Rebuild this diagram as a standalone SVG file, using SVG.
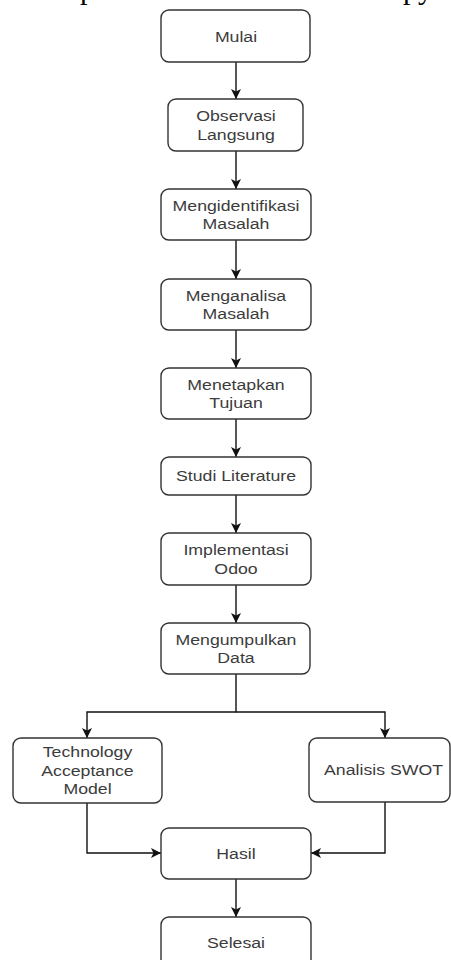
<svg xmlns="http://www.w3.org/2000/svg" width="451" height="960" viewBox="0 0 451 960">
<style>
.box{fill:#fff;stroke:#333;stroke-width:1.4}
.t{font-family:"Liberation Sans",Arial,sans-serif;font-size:15px;fill:#3c3c3c;text-anchor:middle}
.c{fill:none;stroke:#111;stroke-width:1.4}
.cap{font-family:"Liberation Serif","Times New Roman",serif;font-size:30px;fill:#000}
</style>
<defs>
<marker id="ah" viewBox="0 0 10 10" refX="10" refY="5" markerWidth="10" markerHeight="10" markerUnits="userSpaceOnUse" orient="auto">
<path d="M0,0 L10,5 L0,10 L2.5,5 Z" fill="#111"/>
</marker>
</defs>
<rect width="451" height="960" fill="#fff"/>
<g id="caption">
<text class="cap" x="80" y="-1">p</text>
<text class="cap" x="403" y="-1">py</text>
</g>
<g id="connectors">
<path class="c" d="M236,62 V99" marker-end="url(#ah)"/>
<path class="c" d="M236,151 V189" marker-end="url(#ah)"/>
<path class="c" d="M236,240 V279" marker-end="url(#ah)"/>
<path class="c" d="M236,330 V368" marker-end="url(#ah)"/>
<path class="c" d="M236,419 V457" marker-end="url(#ah)"/>
<path class="c" d="M236,495 V533" marker-end="url(#ah)"/>
<path class="c" d="M236,585 V623" marker-end="url(#ah)"/>
<path class="c" d="M236,674 V712 H87 V738" marker-end="url(#ah)"/>
<path class="c" d="M236,712 H385 V738" marker-end="url(#ah)"/>
<path class="c" d="M87,803 V853 H161" marker-end="url(#ah)"/>
<path class="c" d="M385,802 V853 H311" marker-end="url(#ah)"/>
<path class="c" d="M236,879 V917" marker-end="url(#ah)"/>
</g>
<g id="mulai">
<rect class="box" x="161" y="10" width="149" height="52" rx="8"/>
<text class="t" transform="translate(236,41.5) scale(1.18,1)">Mulai</text>
</g>
<g id="observasi">
<rect class="box" x="168" y="99" width="135" height="52" rx="8"/>
<text class="t" transform="translate(236,121.4) scale(1.18,1)">Observasi</text>
<text class="t" transform="translate(236,139.6) scale(1.18,1)">Langsung</text>
</g>
<g id="mengidentifikasi">
<rect class="box" x="161" y="189" width="150" height="51" rx="8"/>
<text class="t" transform="translate(236,210.9) scale(1.18,1)">Mengidentifikasi</text>
<text class="t" transform="translate(236,229.1) scale(1.18,1)">Masalah</text>
</g>
<g id="menganalisa">
<rect class="box" x="161" y="279" width="150" height="51" rx="8"/>
<text class="t" transform="translate(236,300.9) scale(1.18,1)">Menganalisa</text>
<text class="t" transform="translate(236,319.1) scale(1.18,1)">Masalah</text>
</g>
<g id="menetapkan">
<rect class="box" x="161" y="368" width="150" height="51" rx="8"/>
<text class="t" transform="translate(236,389.9) scale(1.18,1)">Menetapkan</text>
<text class="t" transform="translate(236,408.1) scale(1.18,1)">Tujuan</text>
</g>
<g id="studi">
<rect class="box" x="161" y="457" width="150" height="38" rx="8"/>
<text class="t" transform="translate(236,481.4) scale(1.18,1)">Studi Literature</text>
</g>
<g id="implementasi">
<rect class="box" x="161" y="533" width="150" height="52" rx="8"/>
<text class="t" transform="translate(236,555.4) scale(1.18,1)">Implementasi</text>
<text class="t" transform="translate(236,573.6) scale(1.18,1)">Odoo</text>
</g>
<g id="mengumpulkan">
<rect class="box" x="161" y="623" width="149" height="51" rx="8"/>
<text class="t" transform="translate(236,644.9) scale(1.18,1)">Mengumpulkan</text>
<text class="t" transform="translate(236,663.1) scale(1.18,1)">Data</text>
</g>
<g id="tam">
<rect class="box" x="13" y="738" width="149" height="65" rx="8"/>
<text class="t" transform="translate(87.5,757.4) scale(1.18,1)">Technology</text>
<text class="t" transform="translate(87.5,775.7) scale(1.18,1)">Acceptance</text>
<text class="t" transform="translate(87.5,794) scale(1.18,1)">Model</text>
</g>
<g id="swot">
<rect class="box" x="309" y="738" width="141" height="64" rx="8"/>
<text class="t" transform="translate(383.5,775.4) scale(1.18,1)">Analisis SWOT</text>
</g>
<g id="hasil">
<rect class="box" x="161" y="828" width="150" height="51" rx="8"/>
<text class="t" transform="translate(236,858.9) scale(1.18,1)">Hasil</text>
</g>
<g id="selesai">
<rect class="box" x="161" y="917" width="150" height="52" rx="8"/>
<text class="t" transform="translate(236,948.4) scale(1.18,1)">Selesai</text>
</g>
</svg>
